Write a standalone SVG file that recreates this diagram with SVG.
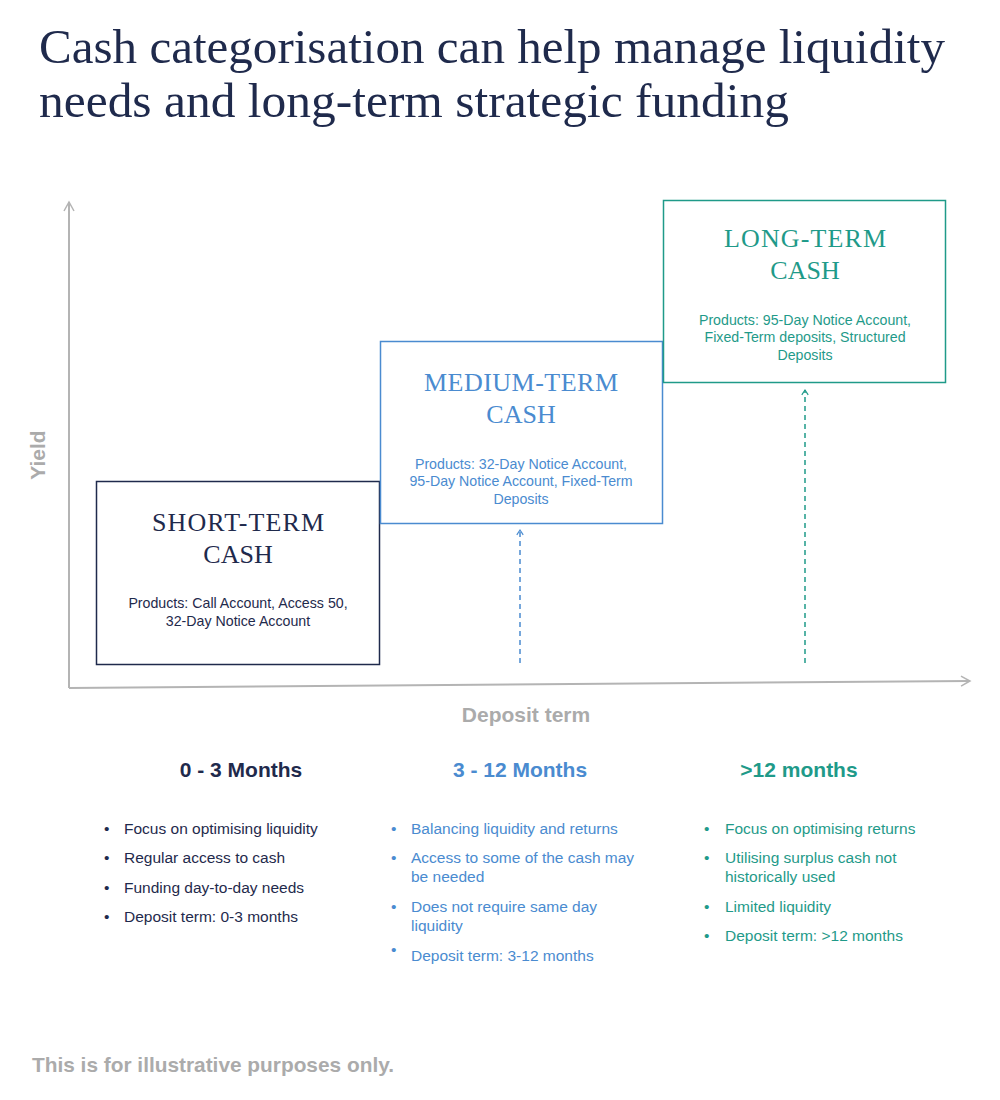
<svg xmlns="http://www.w3.org/2000/svg" width="1000" height="1100" viewBox="0 0 1000 1100">
<style>
.title{font-family:"Liberation Serif","DejaVu Serif",serif;font-size:49px;fill:#1f2a4c}
.bt{font-family:"Liberation Serif","DejaVu Serif",serif;font-size:26px;text-anchor:middle}
.pt{font-family:"Liberation Sans",Arial,sans-serif;font-size:14.2px;text-anchor:middle}
.hd{font-family:"Liberation Sans",Arial,sans-serif;font-size:21px;font-weight:bold;text-anchor:middle}
.li{font-family:"Liberation Sans",Arial,sans-serif;font-size:15.5px}
.ax{font-family:"Liberation Sans",Arial,sans-serif;font-size:21px;font-weight:bold;fill:#ababab}
.navy{fill:#1f2a4c}.blue{fill:#4a8bd0}.teal{fill:#1f9a89}
.axis{stroke:#b4b4b4;stroke-width:2;fill:none}
</style>
<defs>
<marker id="ahG" viewBox="0 0 12 12" refX="10" refY="6" markerWidth="12" markerHeight="12" markerUnits="userSpaceOnUse" orient="auto"><path d="M1,1 L10,6 L1,11" fill="none" stroke="#b4b4b4" stroke-width="1.5"/></marker>
<marker id="ahB" viewBox="0 0 10 10" refX="8" refY="5" markerWidth="8" markerHeight="8" markerUnits="userSpaceOnUse" orient="auto"><path d="M2,1 L8,5 L2,9" fill="none" stroke="#4a8bd0" stroke-width="1.5"/></marker>
<marker id="ahT" viewBox="0 0 10 10" refX="8" refY="5" markerWidth="8" markerHeight="8" markerUnits="userSpaceOnUse" orient="auto"><path d="M2,1 L8,5 L2,9" fill="none" stroke="#1f9a89" stroke-width="1.5"/></marker>
</defs>
<rect width="1000" height="1100" fill="#ffffff"/>
<g id="title">
<text class="title" x="39" y="63" textLength="906" lengthAdjust="spacingAndGlyphs">Cash categorisation can help manage liquidity</text>
<text class="title" x="39" y="117" textLength="750" lengthAdjust="spacingAndGlyphs">needs and long-term strategic funding</text>
</g>
<g id="axes">
<line class="axis" x1="69" y1="688" x2="69" y2="202" marker-end="url(#ahG)"/>
<line class="axis" x1="69" y1="688" x2="970" y2="681" marker-end="url(#ahG)"/>
<text class="ax" transform="translate(45,455) rotate(-90)" text-anchor="middle">Yield</text>
<text class="ax" x="526" y="722" text-anchor="middle">Deposit term</text>
</g>
<g id="connectors">
<line x1="520" y1="663" x2="520" y2="530" stroke="#4a8bd0" stroke-width="1.5" stroke-dasharray="5,4" marker-end="url(#ahB)"/>
<line x1="805" y1="663" x2="805" y2="390" stroke="#1f9a89" stroke-width="1.5" stroke-dasharray="5,4" marker-end="url(#ahT)"/>
</g>
<g id="short-term">
<rect x="96.5" y="481.5" width="283" height="183" fill="#fff" stroke="#1f2a4c" stroke-width="1.5"/>
<text class="bt navy" x="238" y="531" textLength="172" lengthAdjust="spacing">SHORT-TERM</text>
<text class="bt navy" x="238" y="563">CASH</text>
<text class="pt navy" x="238" y="608">Products: Call Account, Access 50,</text>
<text class="pt navy" x="238" y="626">32-Day Notice Account</text>
</g>
<g id="medium-term">
<rect x="380.5" y="341.5" width="282" height="182" fill="#fff" stroke="#4a8bd0" stroke-width="1.5"/>
<text class="bt blue" x="521" y="391" textLength="194" lengthAdjust="spacing">MEDIUM-TERM</text>
<text class="bt blue" x="521" y="423">CASH</text>
<text class="pt blue" x="521" y="469">Products: 32-Day Notice Account,</text>
<text class="pt blue" x="521" y="486">95-Day Notice Account, Fixed-Term</text>
<text class="pt blue" x="521" y="504">Deposits</text>
</g>
<g id="long-term">
<rect x="663.5" y="200.5" width="282" height="182" fill="#fff" stroke="#1f9a89" stroke-width="1.5"/>
<text class="bt teal" x="805" y="247" textLength="162" lengthAdjust="spacing">LONG-TERM</text>
<text class="bt teal" x="805" y="279">CASH</text>
<text class="pt teal" x="805" y="325">Products: 95-Day Notice Account,</text>
<text class="pt teal" x="805" y="342">Fixed-Term deposits, Structured</text>
<text class="pt teal" x="805" y="360">Deposits</text>
</g>
<g id="col-short">
<text class="hd navy" x="241" y="777">0 - 3 Months</text>
<g class="li navy">
<text x="104" y="834">•</text><text x="124" y="834">Focus on optimising liquidity</text>
<text x="104" y="863">•</text><text x="124" y="863">Regular access to cash</text>
<text x="104" y="893">•</text><text x="124" y="893">Funding day-to-day needs</text>
<text x="104" y="922">•</text><text x="124" y="922">Deposit term: 0-3 months</text>
</g>
</g>
<g id="col-medium">
<text class="hd blue" x="520" y="777">3 - 12 Months</text>
<g class="li blue">
<text x="391" y="834">•</text><text x="411" y="834">Balancing liquidity and returns</text>
<text x="391" y="863">•</text><text x="411" y="863">Access to some of the cash may</text>
<text x="411" y="882">be needed</text>
<text x="391" y="912">•</text><text x="411" y="912">Does not require same day</text>
<text x="411" y="931">liquidity</text>
<text x="391" y="955">•</text><text x="411" y="961">Deposit term: 3-12 months</text>
</g>
</g>
<g id="col-long">
<text class="hd teal" x="799" y="777">&gt;12 months</text>
<g class="li teal">
<text x="704" y="834">•</text><text x="725" y="834">Focus on optimising returns</text>
<text x="704" y="863">•</text><text x="725" y="863">Utilising surplus cash not</text>
<text x="725" y="882">historically used</text>
<text x="704" y="912">•</text><text x="725" y="912">Limited liquidity</text>
<text x="704" y="941">•</text><text x="725" y="941">Deposit term: &gt;12 months</text>
</g>
</g>
<text class="ax" x="32" y="1072" textLength="362" lengthAdjust="spacingAndGlyphs">This is for illustrative purposes only.</text>
</svg>
